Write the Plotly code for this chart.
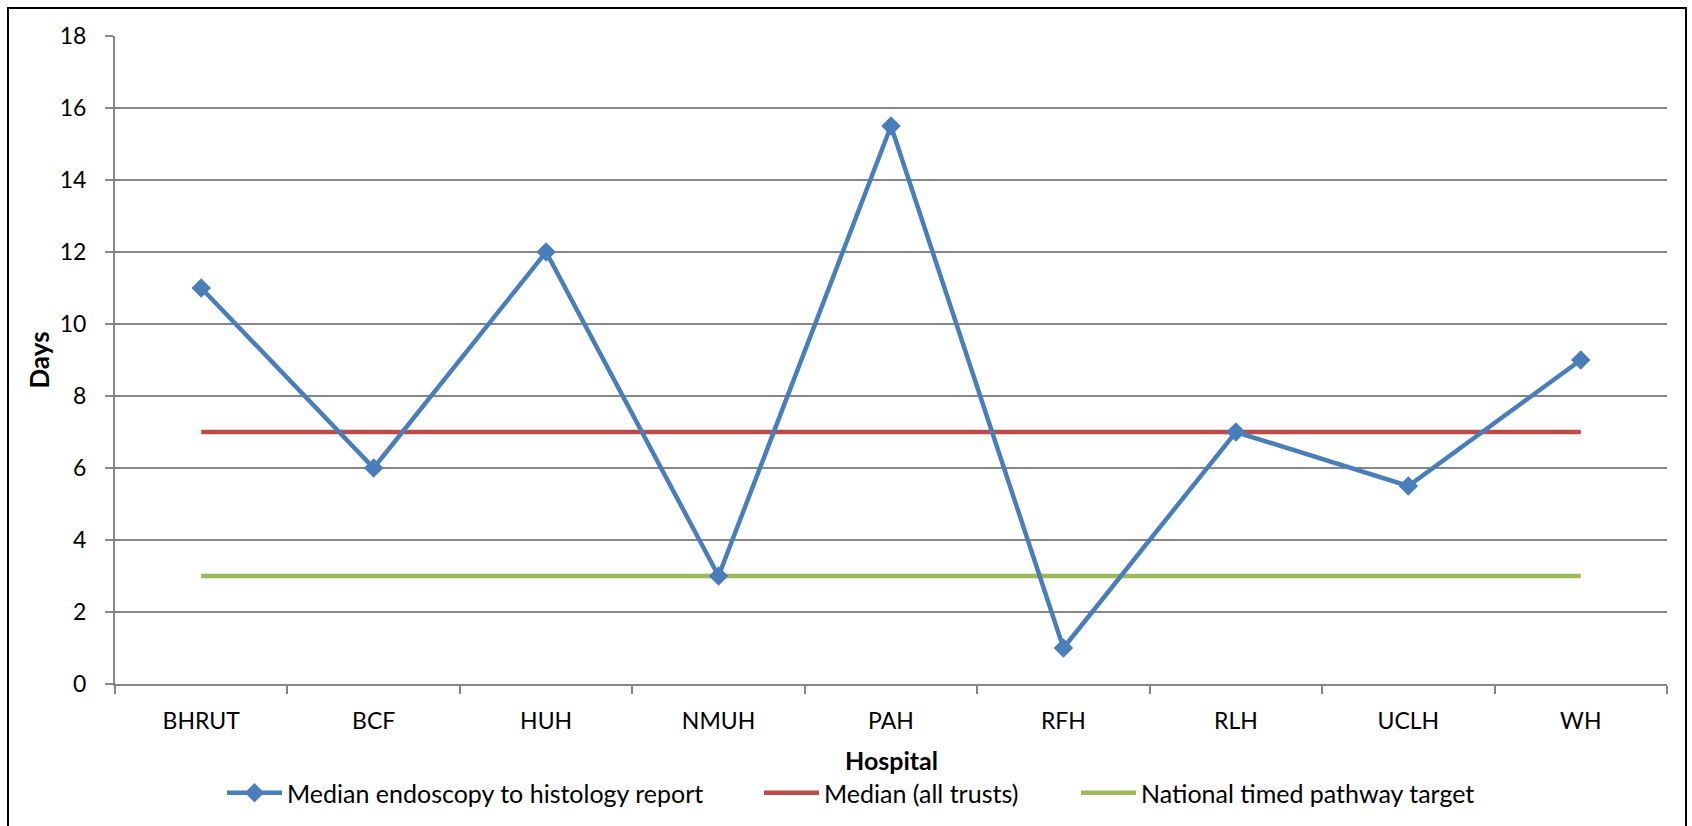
import plotly.graph_objects as go

# Median days from endoscopy to histology report, per hospital
hospitals = ["BHRUT", "BCF", "HUH", "NMUH", "PAH", "RFH", "RLH", "UCLH", "WH"]
median_days = [11, 6, 12, 3, 15.5, 1, 7, 5.5, 9]
median_all_trusts = [7] * len(hospitals)
pathway_target = [3] * len(hospitals)

y_ticks = [0, 2, 4, 6, 8, 10, 12, 14, 16, 18]

FONT = "Lato"
W, H = 1692, 826
L, R, T, B = 115, 25, 36, 142
PLOT_H = H - T - B

fig = go.Figure()

fig.add_trace(go.Scatter(
    x=hospitals, y=median_all_trusts, mode="lines",
    name="Median (all trusts)",
    line=dict(color="#BE4B48", width=4.5),
    legend="legend2",
))
fig.add_trace(go.Scatter(
    x=hospitals, y=pathway_target, mode="lines",
    name="National timed pathway target",
    line=dict(color="#9BBB59", width=4.5),
    legend="legend3",
))
fig.add_trace(go.Scatter(
    x=hospitals, y=median_days, mode="lines+markers",
    name="Median endoscopy to histology report",
    line=dict(color="#4A7EBB", width=4.5),
    marker=dict(symbol="diamond", size=15, color="#4A7EBB"),
    legend="legend",
))

legend_common = dict(
    orientation="h", xref="container", yref="container",
    xanchor="left", yanchor="middle", y=1 - 793 / H,
    font=dict(family=FONT, size=25, color="#000000"),
    bgcolor="rgba(0,0,0,0)", itemwidth=55, tracegroupgap=0,
    itemclick=False, itemdoubleclick=False,
)

fig.update_layout(
    width=W, height=H,
    margin=dict(l=L, r=R, t=T, b=B, autoexpand=False),
    paper_bgcolor="white", plot_bgcolor="white",
    font=dict(family=FONT, size=23, color="#000000"),
    showlegend=True,
    legend=dict(legend_common, x=222 / W),
    legend2=dict(legend_common, x=759 / W),
    legend3=dict(legend_common, x=1076 / W),
    xaxis=dict(
        type="category", categoryorder="array", categoryarray=hospitals,
        range=[-0.5, len(hospitals) - 0.5],
        showgrid=False, zeroline=False, automargin=False,
        showline=True, linecolor="#868686", linewidth=2,
        ticks="outside", tickson="boundaries", ticklen=8,
        tickcolor="#868686", tickwidth=2,
        ticklabelstandoff=15,
    ),
    yaxis=dict(
        range=[0, 18], tickvals=y_ticks,
        showgrid=True, gridcolor="#868686", gridwidth=2,
        zeroline=False, automargin=False,
        showline=True, linecolor="#868686", linewidth=2,
        ticks="outside", ticklen=8, tickcolor="#868686", tickwidth=2,
        ticklabelstandoff=14,
        title=dict(text="<b>Days</b>", standoff=3,
                   font=dict(family=FONT, size=26)),
    ),
    annotations=[dict(
        text="<b>Hospital</b>", xref="paper", yref="paper",
        x=0.5, y=-(760 - (T + PLOT_H)) / PLOT_H,
        xanchor="center", yanchor="middle", showarrow=False,
        font=dict(family=FONT, size=25, color="#000000"),
    )],
    shapes=[dict(
        type="rect", xref="paper", yref="paper",
        x0=(8 - L) / (W - L - R), x1=(1686 - L) / (W - L - R),
        y0=(684 - 832) / PLOT_H, y1=(684 - 8) / PLOT_H,
        line=dict(color="#000000", width=2), fillcolor="rgba(0,0,0,0)",
        layer="below",
    )],
)

fig.write_html("out.html")
